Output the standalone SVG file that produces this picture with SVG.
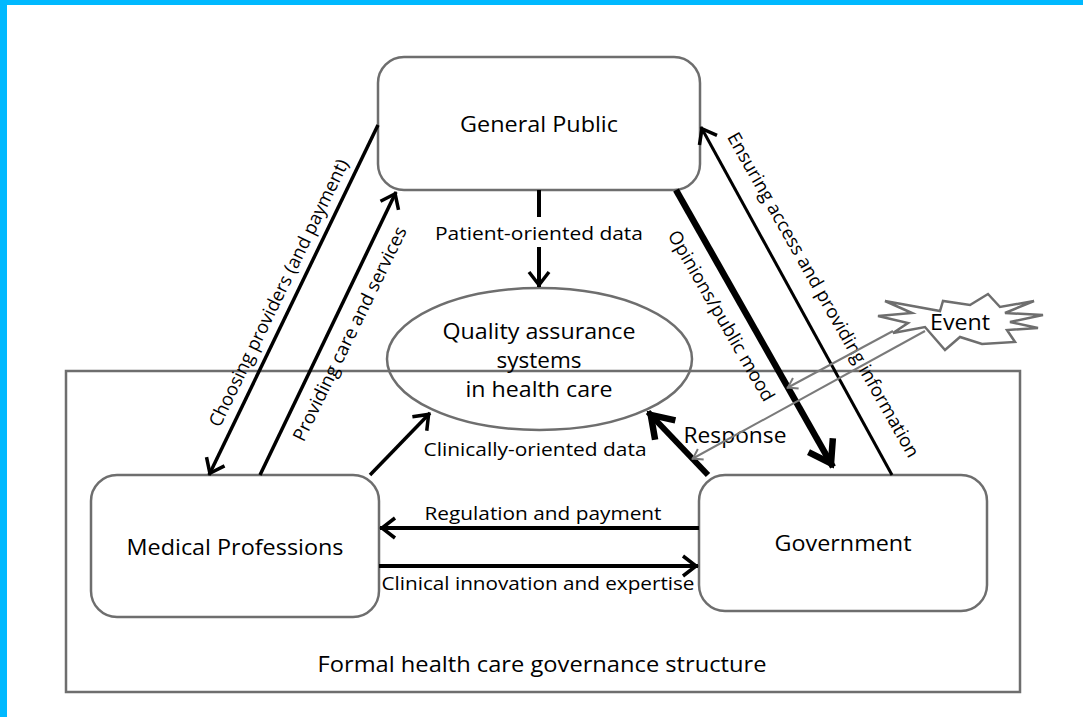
<svg xmlns="http://www.w3.org/2000/svg" width="1083" height="717" viewBox="0 0 1083 717">
<style>
text{font-family:"Open Sans","Liberation Sans",sans-serif;fill:#000}
.n{font-size:21px}
.c{font-size:18.5px}
.box{fill:#fff;stroke:#6e6e6e;stroke-width:2.5}
.ln{fill:none;stroke:#000}
.g{fill:none;stroke:#7a7a7a;stroke-width:2}
</style>
<defs>
<marker id="ah" viewBox="-20 -15 30 30" refX="0" refY="0" markerWidth="30" markerHeight="30" markerUnits="userSpaceOnUse" orient="auto" overflow="visible">
<path d="M-15,-10 L-2,0 L-15,10" fill="none" stroke="#000" stroke-width="3.5"/>
</marker>
<marker id="ahB" viewBox="-30 -20 40 40" refX="0" refY="0" markerWidth="40" markerHeight="40" markerUnits="userSpaceOnUse" orient="auto" overflow="visible">
<path d="M-25,-14 L-4,0 L-25,14" fill="none" stroke="#000" stroke-width="6.5"/>
</marker>
<marker id="ahG" viewBox="-15 -10 20 20" refX="0" refY="0" markerWidth="20" markerHeight="20" markerUnits="userSpaceOnUse" orient="auto" overflow="visible">
<path d="M-10,-6 L-1,0 L-10,6" fill="none" stroke="#7a7a7a" stroke-width="2"/>
</marker>
</defs>
<rect width="1083" height="717" fill="#fff"/>
<rect x="0" y="0" width="1083" height="5" fill="#00b9ff"/>
<rect x="0" y="0" width="7" height="717" fill="#00b9ff"/>

<g id="governance-structure">
<rect x="66" y="371" width="954" height="321" fill="none" stroke="#6e6e6e" stroke-width="2.5"/>
<text x="542" y="672" text-anchor="middle" class="n" textLength="449" lengthAdjust="spacingAndGlyphs">Formal health care governance structure</text>
</g>

<g id="general-public">
<rect class="box" x="378" y="57" width="322" height="133" rx="26"/>
<text x="539" y="132" text-anchor="middle" class="n" textLength="158" lengthAdjust="spacingAndGlyphs">General Public</text>
</g>

<g id="quality-assurance">
<ellipse cx="539.5" cy="359" rx="152.5" ry="71" fill="none" stroke="#6e6e6e" stroke-width="2.5"/>
<text x="539" y="339" text-anchor="middle" class="n" textLength="193" lengthAdjust="spacingAndGlyphs">Quality assurance</text>
<text x="539" y="368" text-anchor="middle" class="n" textLength="85" lengthAdjust="spacingAndGlyphs">systems</text>
<text x="539" y="397" text-anchor="middle" class="n" textLength="147" lengthAdjust="spacingAndGlyphs">in health care</text>
</g>

<g id="medical-professions">
<rect class="box" x="91" y="475" width="288" height="142" rx="26"/>
<text x="235" y="555" text-anchor="middle" class="n" textLength="217" lengthAdjust="spacingAndGlyphs">Medical Professions</text>
</g>

<g id="government">
<rect class="box" x="699" y="475" width="288" height="136" rx="26"/>
<text x="843" y="551" text-anchor="middle" class="n" textLength="137" lengthAdjust="spacingAndGlyphs">Government</text>
</g>

<g id="event">
<polygon points="885,301 912,313 878,316 908,323 893,333 925,327 945,350 960,337 982,344 1015,342 1007,330 1038,328 1010,322 1043,315 1005,313 1034,301 1000,307 988,294 970,305 943,301 940,311" fill="#fff" stroke="#6e6e6e" stroke-width="2.5"/>
<text x="960" y="330" text-anchor="middle" class="n" textLength="60" lengthAdjust="spacingAndGlyphs">Event</text>
</g>

<g id="connectors">
<line class="ln" x1="378" y1="125" x2="209" y2="475" stroke-width="3.5" marker-end="url(#ah)"/>
<text class="c" transform="translate(279,293) rotate(-64)" x="0" y="6" text-anchor="middle" textLength="295" lengthAdjust="spacingAndGlyphs">Choosing providers (and payment)</text>
<line class="ln" x1="260" y1="475" x2="396" y2="192" stroke-width="3.5" marker-end="url(#ah)"/>
<text class="c" transform="translate(350,334) rotate(-64)" x="0" y="6" text-anchor="middle" textLength="236" lengthAdjust="spacingAndGlyphs">Providing care and services</text>
<line class="ln" x1="539" y1="190" x2="539" y2="217" stroke-width="4"/>
<line class="ln" x1="539" y1="247" x2="539" y2="287" stroke-width="4" marker-end="url(#ah)"/>
<text class="c" x="539" y="240" text-anchor="middle" textLength="208" lengthAdjust="spacingAndGlyphs">Patient-oriented data</text>
<line class="ln" x1="676" y1="190" x2="833" y2="467" stroke-width="6.5" marker-end="url(#ahB)"/>
<text class="c" transform="translate(721,316) rotate(60)" x="0" y="6" text-anchor="middle" textLength="194" lengthAdjust="spacingAndGlyphs">Opinions/public mood</text>
<line class="ln" x1="892" y1="475" x2="701" y2="127" stroke-width="3" marker-end="url(#ah)"/>
<text class="c" transform="translate(823,295) rotate(60.5)" x="0" y="6" text-anchor="middle" textLength="370" lengthAdjust="spacingAndGlyphs">Ensuring access and providing information</text>
<line class="ln" x1="370" y1="475" x2="430" y2="413" stroke-width="3.5" marker-end="url(#ah)"/>
<text class="c" x="535" y="456" text-anchor="middle" textLength="223" lengthAdjust="spacingAndGlyphs">Clinically-oriented data</text>
<line class="ln" x1="708" y1="475" x2="648" y2="412" stroke-width="6" marker-end="url(#ahB)"/>
<text class="n" x="735" y="443" text-anchor="middle" textLength="103" lengthAdjust="spacingAndGlyphs">Response</text>
<line class="ln" x1="699" y1="528" x2="380" y2="528" stroke-width="4" marker-end="url(#ah)"/>
<text class="c" x="543" y="520" text-anchor="middle" textLength="237" lengthAdjust="spacingAndGlyphs">Regulation and payment</text>
<line class="ln" x1="379" y1="566" x2="698" y2="566" stroke-width="4" marker-end="url(#ah)"/>
<text class="c" x="538" y="590" text-anchor="middle" textLength="313" lengthAdjust="spacingAndGlyphs">Clinical innovation and expertise</text>
<line class="g" x1="893" y1="331" x2="787" y2="388" marker-end="url(#ahG)"/>
<line class="g" x1="925" y1="331" x2="692" y2="459" marker-end="url(#ahG)"/>
</g>
</svg>
